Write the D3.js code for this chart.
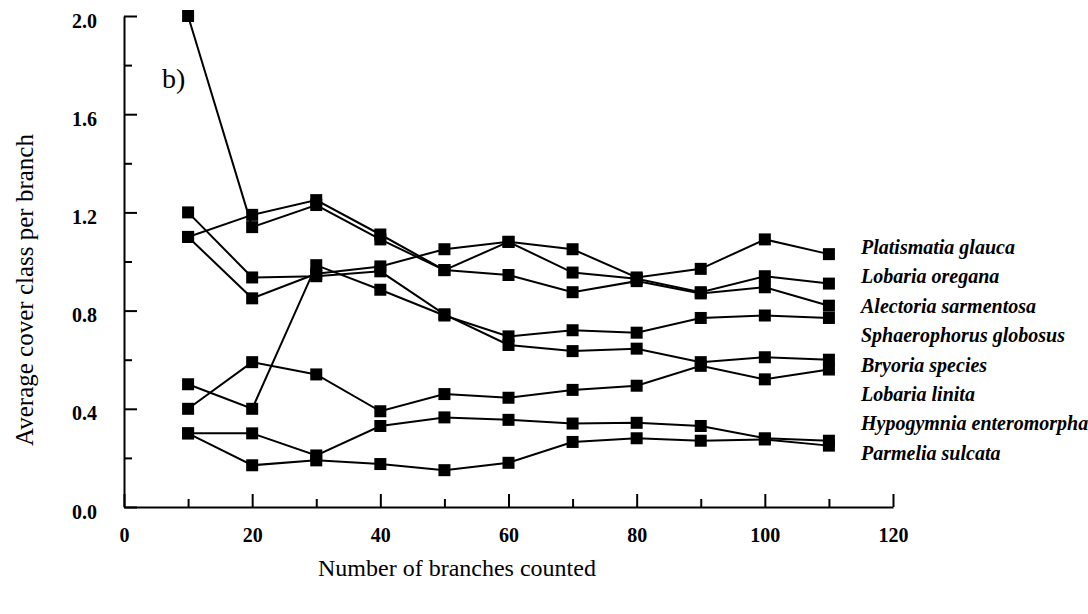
<!DOCTYPE html>
<html>
<head>
<meta charset="utf-8">
<title>Average cover class per branch</title>
<script src="https://d3js.org/d3.v7.min.js"></script>
<style>
  body { margin: 0; background: #fff; }
  svg { display: block; }
</style>
</head>
<body>
<svg width="1088" height="614"></svg>
<script>
    // values (panel b)
    const branches = [10, 20, 30, 40, 50, 60, 70, 80, 90, 100, 110];
    const speciesNames = [
        "Platismatia glauca", "Lobaria oregana", "Alectoria sarmentosa",
        "Sphaerophorus globosus", "Bryoria species", "Lobaria linita",
        "Hypogymnia enteromorpha", "Parmelia sulcata"
    ];
    const platismatia   = [1.10, 0.85, 0.95, 0.98, 1.05, 1.08, 1.05, 0.935, 0.97, 1.09, 1.03];
    const lobariaOreg   = [2.00, 1.14, 1.23, 1.09, 0.965, 1.08, 0.955, 0.93, 0.875, 0.94, 0.91];
    const alectoria     = [1.10, 1.19, 1.25, 1.11, 0.965, 0.945, 0.875, 0.92, 0.87, 0.895, 0.82];
    const sphaerophorus = [0.50, 0.40, 0.985, 0.885, 0.78, 0.695, 0.72, 0.71, 0.77, 0.78, 0.77];
    const bryoria       = [1.20, 0.935, 0.94, 0.96, 0.785, 0.66, 0.635, 0.645, 0.59, 0.61, 0.60];
    const lobariaLinita = [0.40, 0.59, 0.54, 0.39, 0.46, 0.445, 0.477, 0.494, 0.575, 0.52, 0.56];
    const hypogymnia    = [0.30, 0.30, 0.21, 0.33, 0.365, 0.355, 0.34, 0.343, 0.33, 0.28, 0.27];
    const parmelia      = [0.30, 0.17, 0.19, 0.175, 0.15, 0.18, 0.265, 0.28, 0.27, 0.275, 0.25];
    const allSeries = [platismatia, lobariaOreg, alectoria, sphaerophorus,
                       bryoria, lobariaLinita, hypogymnia, parmelia];

    const xMajorTicks = [0, 20, 40, 60, 80, 100, 120];
    const xMinorTicks = [10, 30, 50, 70, 90, 110];
    const yMajorTicks = [0, 0.4, 0.8, 1.2, 1.6, 2.0];
    const yMinorTicks = [0.2, 0.6, 1.0, 1.4, 1.8];

    const svg = d3.select("svg");
    const serif = "'Liberation Serif', 'Times New Roman', serif";

    const x = d3.scaleLinear().domain([0, 120]).range([124, 893]);
    const y = d3.scaleLinear().domain([0, 2]).range([507, 16]);

    // x axis, ticks point up into the plot
    svg.append("g")
        .attr("transform", "translate(0," + y(0) + ")")
        .call(d3.axisBottom(x).tickValues(xMajorTicks).tickSize(-13).tickSizeOuter(0)
            .tickPadding(21).tickFormat(d3.format("d")));
    svg.append("g")
        .attr("transform", "translate(0," + y(0) + ")")
        .call(d3.axisBottom(x).tickValues(xMinorTicks).tickSize(-8).tickFormat(""))
        .select(".domain").remove();

    // y axis, ticks point right
    const yAxis = svg.append("g")
        .attr("transform", "translate(" + x(0) + ",0)")
        .call(d3.axisLeft(y).tickValues(yMajorTicks).tickSize(-13).tickSizeOuter(0)
            .tickPadding(27).tickFormat(d3.format(".1f")));
    svg.append("g")
        .attr("transform", "translate(" + x(0) + ",0)")
        .call(d3.axisLeft(y).tickValues(yMinorTicks).tickSize(-8).tickFormat(""))
        .select(".domain").remove();

    yAxis.selectAll("text").attr("dy", "0.55em");

    svg.selectAll(".domain, .tick line")
        .attr("stroke", "#000")
        .attr("stroke-width", 2);

    svg.selectAll(".tick text")
        .attr("fill", "#000")
        .style("font-family", serif)
        .style("font-weight", "bold")
        .style("font-size", "20px");

    // series lines and square markers
    const line = d3.line()
        .x((d, i) => x(branches[i]))
        .y(d => y(d));

    allSeries.forEach(values => {
        svg.append("path")
            .attr("d", line(values))
            .attr("fill", "none")
            .attr("stroke", "#000")
            .attr("stroke-width", 2);
    });

    allSeries.forEach(values => {
        svg.append("g").selectAll("rect")
            .data(values)
            .enter().append("rect")
            .attr("x", (d, i) => x(branches[i]) - 6)
            .attr("y", d => y(d) - 6)
            .attr("width", 12)
            .attr("height", 12)
            .attr("fill", "#000");
    });

    // species labels down the right side
    svg.append("g").selectAll("text")
        .data(speciesNames)
        .enter().append("text")
        .attr("x", 861)
        .attr("y", (d, i) => 247 + i * 29.4)
        .attr("dy", "0.35em")
        .style("font-family", serif)
        .style("font-style", "italic")
        .style("font-weight", "bold")
        .style("font-size", "20px")
        .text(d => d);

    // panel letter
    svg.append("text")
        .attr("x", 162)
        .attr("y", 88)
        .style("font-family", serif)
        .style("font-size", "28px")
        .text("b)");

    // axis titles
    svg.append("text")
        .attr("x", 318)
        .attr("y", 576)
        .style("font-family", serif)
        .style("font-size", "24px")
        .text("Number of branches counted");

    svg.append("text")
        .attr("transform", "translate(33,290) rotate(-90)")
        .attr("text-anchor", "middle")
        .style("font-family", serif)
        .style("font-size", "25px")
        .text("Average cover class per branch");
</script>
</body>
</html>
